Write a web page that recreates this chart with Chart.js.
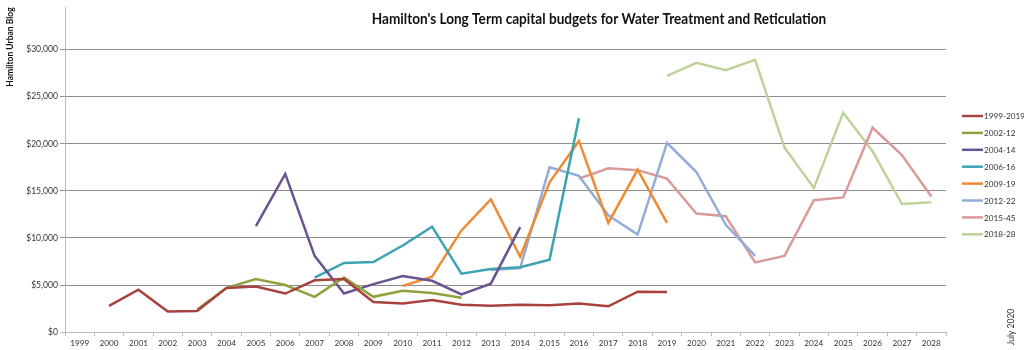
<!DOCTYPE html>
<html>
<head>
<meta charset="utf-8">
<script src="https://cdn.jsdelivr.net/npm/chart.js@4"></script>
<style>
  body { margin: 0; background: #fff; }
  #wrap { width: 1024px; height: 350px; }
</style>
</head>
<body>
<div id="wrap"><canvas id="budgetChart" width="1024" height="350"></canvas></div>
<script>
// years on the x axis (the 2015 label really reads "2,015" in the original)
var years = ["1999","2000","2001","2002","2003","2004","2005","2006","2007","2008",
             "2009","2010","2011","2012","2013","2014","2,015","2016","2017","2018",
             "2019","2020","2021","2022","2023","2024","2025","2026","2027","2028"];

var seriesNames = ["1999-2019","2002-12","2004-14","2006-16","2009-19","2012-22","2015-45","2018-28"];

var yTicks = [0, 5000, 10000, 15000, 20000, 25000, 30000];

// values in $, null where a plan has no figure for that year
var s1999 = [null,2800,4500,2200,2250,4700,4850,4100,5500,5650,3200,3050,3400,2900,2800,2900,2850,3050,2750,4300,4250,null,null,null,null,null,null,null,null,null];
var s2002 = [null,null,null,null,2400,4700,5650,5000,3750,5800,3750,4400,4150,3650,null,null,null,null,null,null,null,null,null,null,null,null,null,null,null,null];
var s2004 = [null,null,null,null,null,null,11250,16800,8100,4100,5100,5950,5450,4000,5150,11150,null,null,null,null,null,null,null,null,null,null,null,null,null,null];
var s2006 = [null,null,null,null,null,null,null,null,5800,7350,7450,9200,11200,6200,6700,6900,7700,22700,null,null,null,null,null,null,null,null,null,null,null,null];
var s2009 = [null,null,null,null,null,null,null,null,null,null,null,4900,5900,10800,14100,8000,15900,20300,11600,17250,11600,null,null,null,null,null,null,null,null,null];
var s2012 = [null,null,null,null,null,null,null,null,null,null,null,null,null,null,6600,6800,17500,16600,12400,10350,20100,17000,11400,8100,null,null,null,null,null,null];
var s2015 = [null,null,null,null,null,null,null,null,null,null,null,null,null,null,null,null,null,16300,17400,17200,16300,12600,12300,7400,8100,14000,14300,21700,18800,14400];
var s2018 = [null,null,null,null,null,null,null,null,null,null,null,null,null,null,null,null,null,null,null,null,27200,28600,27800,28900,19600,15300,23300,19200,13600,13800];

var seriesValues = [s1999, s2002, s2004, s2006, s2009, s2012, s2015, s2018];
var seriesColors = ["#a8423f","#8fa23e","#6a5393","#3da3b4","#ee8b34","#93acd8","#d99a9a","#bcd49a"];

var font = "Lato, 'Open Sans', sans-serif";

var extraText = {
    id: 'extraText',
    afterDraw: function (chart) {
        var c = chart.ctx;
        c.save();
        // title (squeezed a bit to get the narrow look of the original)
        c.translate(599, 19);
        c.scale(0.85, 1);
        c.fillStyle = "#111";
        c.font = "bold 16px " + font;
        c.textAlign = "center";
        c.textBaseline = "middle";
        c.fillText("Hamilton's Long Term capital budgets for Water Treatment and Reticulation", 0, 0);
        c.restore();

        // legend
        c.save();
        c.font = "8.2px " + font;
        c.textAlign = "left";
        c.textBaseline = "middle";
        for (var i = 0; i < seriesNames.length; i++) {
            var y = 116 + i * 16.9;
            c.strokeStyle = seriesColors[i];
            c.lineWidth = 2.5;
            c.beginPath();
            c.moveTo(962, y);
            c.lineTo(983, y);
            c.stroke();
            c.fillStyle = "#333";
            c.fillText(seriesNames[i], 984, y + 0.5);
        }

        // side notes
        c.translate(10, 47);
        c.rotate(-Math.PI / 2);
        c.textAlign = "center";
        c.fillStyle = "#111";
        c.font = "bold 8.5px " + font;
        c.fillText("Hamilton Urban Blog", 0, 0);
        c.restore();

        c.save();
        c.translate(1011, 327);
        c.rotate(-Math.PI / 2);
        c.textAlign = "center";
        c.textBaseline = "middle";
        c.fillStyle = "#333";
        c.font = "8.5px " + font;
        c.fillText("July 2020", 0, 0);
        c.restore();
    }
};

var datasets = [];
for (var i = 0; i < seriesNames.length; i++) {
    datasets.push({
        label: seriesNames[i],
        data: seriesValues[i],
        borderColor: seriesColors[i],
        backgroundColor: seriesColors[i],
        borderWidth: 2.5,
        pointRadius: 0,
        tension: 0,
        spanGaps: false
    });
}

var ctx = document.getElementById("budgetChart");
var budgetChart = new Chart(ctx, {
    type: 'line',
    data: { labels: years, datasets: datasets },
    options: {
        responsive: false,
        animation: false,
        layout: { padding: { top: 0, right: 78, bottom: 0, left: 0 } },
        plugins: {
            legend: { display: false },
            tooltip: { enabled: false }
        },
        scales: {
            x: {
                offset: true,
                grid: { display: true, drawOnChartArea: false, offset: true, tickLength: 4, color: "#bbb" },
                border: { color: "#bbb" },
                ticks: {
                    autoSkip: false, maxRotation: 0, padding: 2, color: "#333",
                    font: { family: font, size: 8.2 }
                }
            },
            y: {
                min: 0,
                max: 34500,
                afterBuildTicks: function (axis) {
                    axis.ticks = yTicks.map(function (v) { return { value: v }; });
                },
                afterFit: function (scale) { scale.width = 65; },
                grid: {
                    tickLength: 5,
                    color: function (c) { return c.tick && c.tick.value === 0 ? "#bbb" : "#8f8f8f"; }
                },
                border: { color: "#bbb" },
                ticks: {
                    padding: 2, color: "#333",
                    font: { family: font, size: 8.6 },
                    callback: function (v) { return "$" + v.toLocaleString("en-US"); }
                }
            }
        }
    },
    plugins: [extraText]
});
</script>
</body>
</html>
